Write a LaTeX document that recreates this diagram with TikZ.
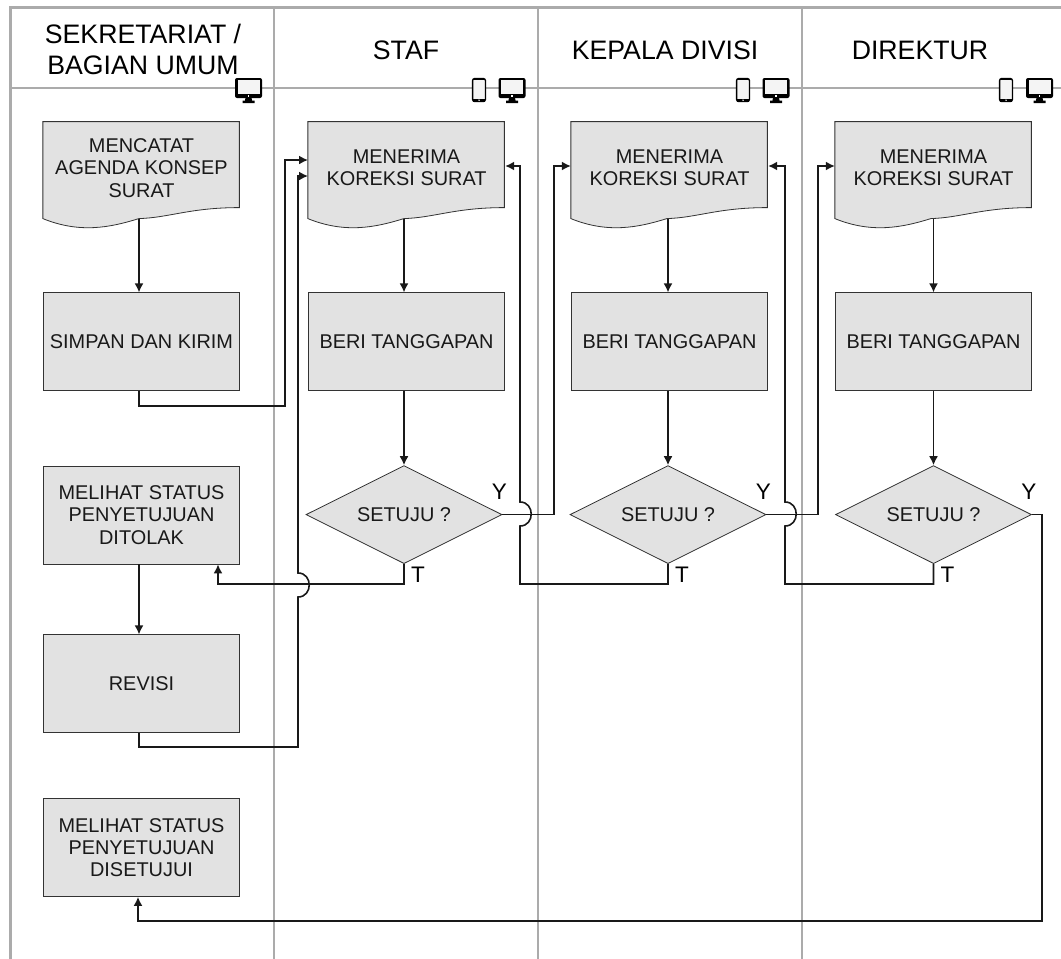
\documentclass[tikz,border=0pt]{standalone}
\usepackage{fontspec}
\setmainfont{Liberation Sans}
\usetikzlibrary{positioning}
\usetikzlibrary{shapes.geometric}
\usetikzlibrary{arrows.meta}
\usetikzlibrary{backgrounds}

\definecolor{kotak}{HTML}{E2E2E2}
\definecolor{lajur}{HTML}{ABABAB}
\definecolor{layar}{HTML}{F4F4F4}

\tikzset{
    kotakan/.style={draw=black!80, fill=kotak, line width=0.8pt, minimum width=196.5pt,
        minimum height=98pt, inner sep=0pt, align=center, text=black!90,
        font=\fontsize{19.9}{22.3}\selectfont},
    dokumen/.style={kotakan, draw=none, fill=none, minimum height=92pt},
    setuju/.style={kotakan, diamond, aspect=2, minimum width=196pt, minimum height=98pt},
    judul/.style={align=center, inner sep=0pt, font=\fontsize{26.7}{31}\selectfont},
    tanda/.style={inner sep=0pt, font=\fontsize{22.5}{24}\selectfont},
    garis/.style={draw=black!90, line width=1.6pt},
    panah/.style={garis, -{Latex[length=9pt,width=9pt]}},
    layarmeja/.pic={
        \fill[black, rounded corners=2pt] (-13.5,-12.5) rectangle (13.5,7.5);
        \fill[layar] (-11,-10.5) rectangle (11,3);
        \fill[white] (-0.8,4.6) rectangle (0.8,6);
        \fill[black] (-3,7) -- (3,7) -- (3.5,10) -- (6,10) -- (6,12.5) -- (-6,12.5) -- (-6,10) -- (-3.5,10) -- cycle;
    },
    layarponsel/.pic={
        \draw[black, fill=layar, line width=1.3pt, rounded corners=2pt] (-6.4,-11.5) rectangle (6.4,11.5);
        \fill[black] (-6,8.8) rectangle (6,11.5);
        \fill[black] (-6,-11.5) rectangle (6,-10);
        \fill[white] (0,10.2) circle (0.8);
    }
}

\begin{document}
\begin{tikzpicture}[x=1pt, y=-1pt]
    \useasboundingbox (0,0) rectangle (1061,959);

    % Lanes
    \draw[lajur, line width=1.2pt] (10,88) -- (1061,88);
    \draw[lajur, line width=2pt] (273.5,7) -- (273.5,959);
    \draw[lajur, line width=2pt] (538,7) -- (538,959);
    \draw[lajur, line width=2pt] (802,7) -- (802,959);
    \draw[lajur, line width=3pt] (10,959) -- (10,7) -- (1061,7);

    % Icons
    \foreach \x in {248.5,512,776,1039.5} {\pic at (\x,90.5) {layarmeja};}
    \foreach \x in {479,743,1006} {\pic at (\x,90) {layarponsel};}

    % Define nodes
    \node[judul] (jdl0) at (143,49) {SEKRETARIAT /\\BAGIAN UMUM};
    \node[judul] (jdl1) at (406,50) {STAF};
    \node[judul] (jdl2) at (665,50) {KEPALA DIVISI};
    \node[judul] (jdl3) at (920,50) {DIREKTUR};

    \node[dokumen]                 (dok0) at (141.5,168) {MENCATAT\\AGENDA KONSEP\\SURAT};
    \node[kotakan, below=78pt of dok0] (simpan) {SIMPAN DAN KIRIM};
    \node[kotakan]                 (status1) at (141.5,515) {MELIHAT STATUS\\PENYETUJUAN\\DITOLAK};
    \node[kotakan, below=70pt of status1] (revisi) {REVISI};
    \node[kotakan]                 (status2) at (141.5,847.5) {MELIHAT STATUS\\PENYETUJUAN\\DISETUJUI};

    \node[dokumen]                 (dok1) at (406.5,168) {MENERIMA\\KOREKSI SURAT};
    \node[dokumen]                 (dok2) at (669.5,168) {MENERIMA\\KOREKSI SURAT};
    \node[dokumen]                 (dok3) at (933.5,168) {MENERIMA\\KOREKSI SURAT};
    \foreach \k in {1,2,3} {
        \node[kotakan, below=78pt of dok\k] (beri\k) {BERI TANGGAPAN};
    }
    \node[setuju, below=74pt of beri1, xshift=-2.5pt] (setuju1) {SETUJU ?};
    \node[setuju, below=74pt of beri2, xshift=-1.5pt] (setuju2) {SETUJU ?};
    \node[setuju, below=74pt of beri3]                (setuju3) {SETUJU ?};

    \foreach \k in {1,2,3} {
        \node[tanda] (ya\k) at ([xshift=-3pt,yshift=23pt]setuju\k.east) {Y};
        \node[tanda] (tidak\k) at ([xshift=14pt,yshift=-11pt]setuju\k.south) {T};
    }

    % Document outlines
    \begin{scope}[on background layer]
        \foreach \d in {dok0,dok1,dok2,dok3} {
            \draw[draw=black!80, fill=kotak, line width=0.8pt, shift={(\d.north west)}]
                (196.5,86) .. controls (147,86) and (127,96) .. (96,97)
                .. controls (67,106) and (37,112) .. (0,97) -- (0,0) -- (196.5,0) -- cycle;
        }
    \end{scope}

    % Bends and jumps
    \coordinate (belok1) at (285,406);
    \coordinate (belok2) at (298,747);
    \coordinate (masuk1) at (308,160);
    \coordinate (masuk2) at (308,176);
    \coordinate (lompat1) at (298,597);
    \coordinate (lompat2) at (298,573);
    \coordinate (kiri1) at (218,584);
    \coordinate (kiri2) at (520,584);
    \coordinate (kiri3) at (785,584);
    \coordinate (naik1) at (554,166);
    \coordinate (naik2) at (818,166);
    \coordinate (turun) at (1042,921);

    % Connect the nodes
    \draw[panah] ([xshift=-2.5pt,yshift=-5pt]dok0.south) -- ([xshift=-2.5pt]simpan.north);
    \draw[panah] ([xshift=-2.5pt]status1.south) -- ([xshift=-2.5pt]revisi.north);
    \draw[panah] ([xshift=-2.5pt]simpan.south) |- (belok1) |- (masuk1);
    \draw[panah] ([xshift=-2.5pt]revisi.south) |- (belok2) -- (lompat1)
        .. controls +(15,0) and +(15,0) .. (lompat2) |- (masuk2);
    \foreach \k in {1,2,3} {
        \draw[panah] ([yshift=-5pt]setuju\k.north |- dok\k.south) -- (setuju\k.north |- beri\k.north);
        \draw[panah] (setuju\k.north |- beri\k.south) -- (setuju\k.north);
    }
    \draw[panah] (setuju1.south) |- (kiri1) -- (kiri1 |- status1.south);

    \draw[panah] (setuju1.east) -| (naik1) -- (dok2.west |- naik1);
    \draw[panah] (setuju2.east) -| (naik2) -- (dok3.west |- naik2);
    \draw[panah] (setuju2.south) |- (kiri2) -- (520,526)
        .. controls +(15,0) and +(15,0) .. (520,502) |- (dok1.east |- 0,166);
    \draw[panah] (setuju3.south) |- (kiri3) -- (785,526)
        .. controls +(15,0) and +(15,0) .. (785,502) |- (dok2.east |- 0,166);
    \draw[panah] (setuju3.east) -| (turun) -| ([xshift=-3.5pt]status2.south);
\end{tikzpicture}
\end{document}
